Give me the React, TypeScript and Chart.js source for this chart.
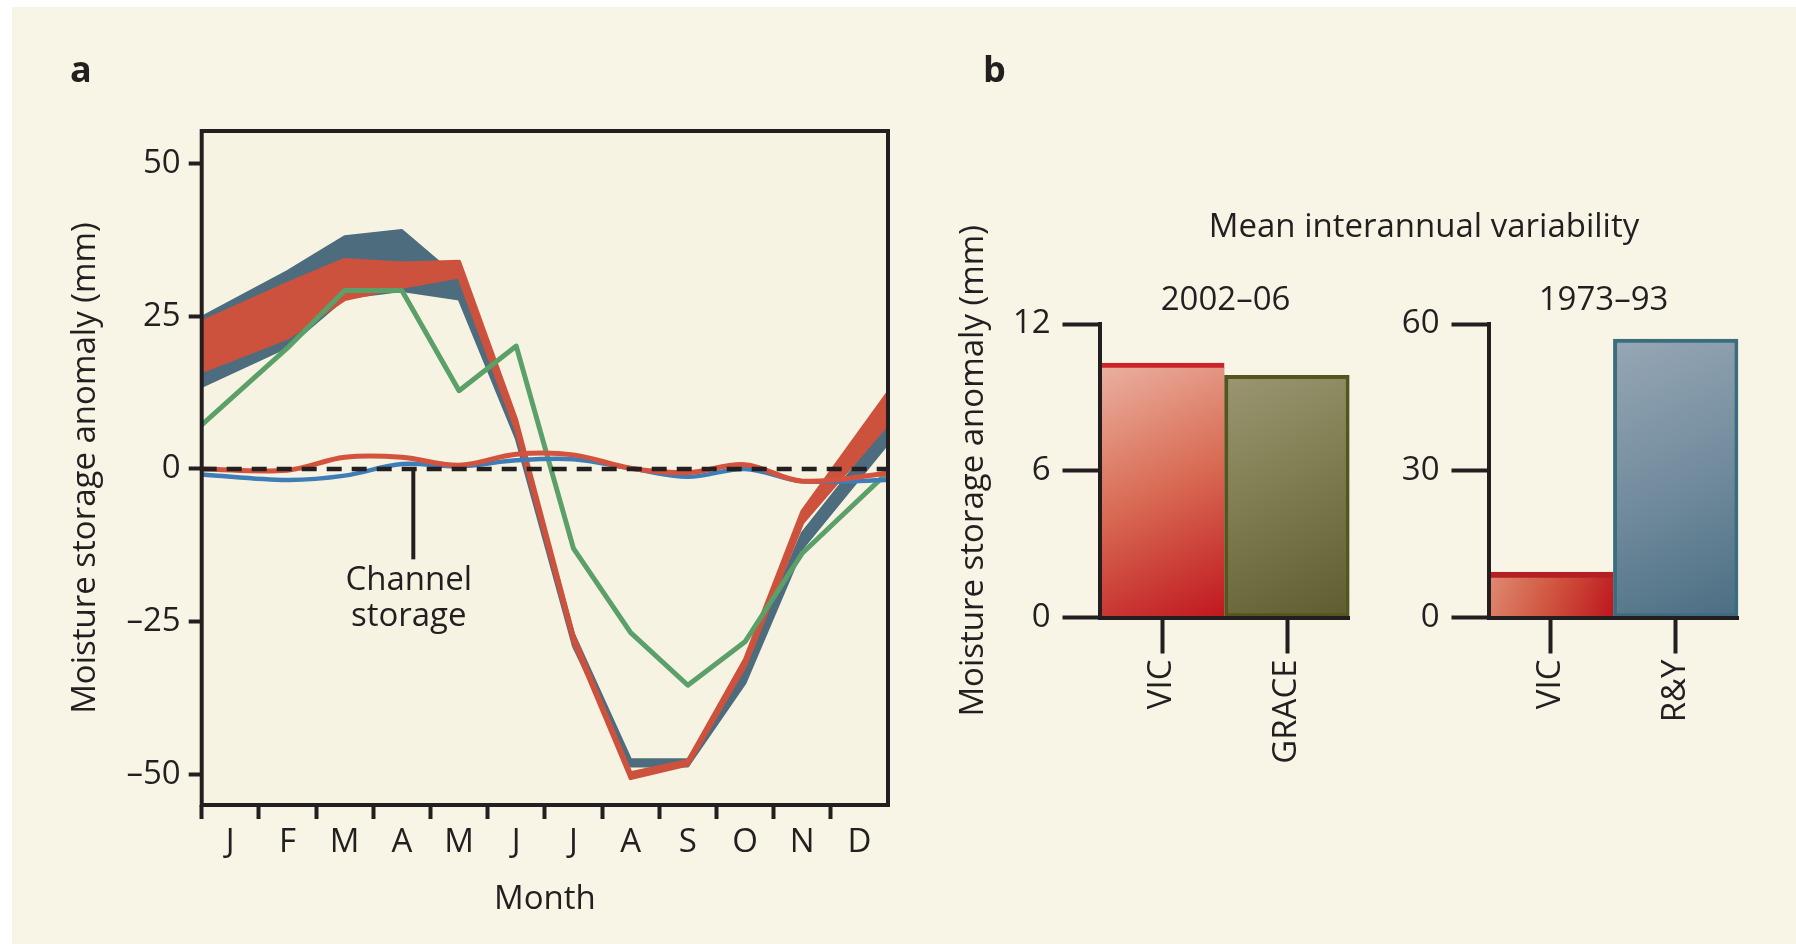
import React, { useEffect, useRef } from 'react';
import { Chart, registerables } from 'chart.js';

Chart.register(...registerables);

// ---------- data: panel a ----------
const monthLabels = ['J', 'F', 'M', 'A', 'M', 'J', 'J', 'A', 'S', 'O', 'N', 'D'];
const monthTicks = [0, 1, 2, 3, 4, 5, 6, 7, 8, 9, 10, 11];
const monthPos = [-0.5, 1, 2, 3, 4, 5, 6, 7, 8, 9, 10, 11.5];

const blueUpper = [24.8, 32.3, 38.0, 39.0, 31.0, 7.0, -27.0, -47.6, -47.6, -32.6, -10.5, 7.2];
const blueLower = [13.5, 20.0, 28.0, 29.2, 27.8, 5.0, -29.0, -48.6, -48.6, -35.0, -13.0, 4.2];
const redUpper = [24.0, 30.3, 34.2, 33.6, 33.9, 8.0, -27.3, -49.8, -47.8, -31.2, -7.0, 12.4];
const redLower = [16.0, 21.5, 27.8, 29.8, 31.5, 6.5, -28.3, -50.6, -48.4, -32.2, -8.8, 7.5];
const greenLine = [7.2, 19.8, 29.2, 29.2, 12.8, 20.1, -13.0, -26.8, -35.4, -28.3, -13.8, -0.5];
const channelBlue = [-0.9, -1.8, -1.1, 0.8, 0.4, 1.4, 1.6, 0.1, -1.3, 0.0, -2.0, -1.8];
const channelRed = [0.0, -0.2, 1.9, 1.9, 0.6, 2.4, 2.3, 0.1, -0.6, 0.7, -2.0, -0.7];

const yTicksA = [-50, -25, 0, 25, 50];
const yTickLabelsA = ['\u201350', '\u201325', '0', '25', '50'];

// annotation "Channel storage"
const annotText = ['Channel', 'storage'];
const annotLineX = 3.2;
const annotLineEnd = -14.8;
const annotTextX = 3.12;
const annotTextY = [-18.3, -24.2];

// ---------- data: panel b ----------
const catsB1 = ['VIC', 'GRACE'];
const valsB1 = [10.4, 9.9];
const yTicksB1 = [0, 6, 12];
const catsB2 = ['VIC', 'R&Y'];
const valsB2 = [9.3, 56.9];
const yTicksB2 = [0, 30, 60];

// ---------- styles ----------
const INK = '#231f20';
const FONT = "'Open Sans', 'Noto Sans', sans-serif";
const BG = '#f8f5e7';
const C_BLUE_BAND = '#4d6d7f';
const C_RED_BAND = '#cc523d';
const C_GREEN = '#5b9f69';
const C_CH_BLUE = '#3f7db7';
const C_CH_RED = '#d4533e';

const gradsB1 = [
  ['#ebb2a1', '#d86a53', '#c0171f'],
  ['#9b9672', '#7d7b4e', '#5f5d2f'],
];
const gradsB2 = [
  ['#e08c74', '#d0553f', '#bd161e'],
  ['#97a7b5', '#738d9e', '#4b6e83'],
];
const borderColB1 = ['#cc2229', '#55551f'];
const borderColB2 = ['#b32024', '#3c6d7f'];
const borderWB1: any[] = [{ top: 5, left: 0, right: 0, bottom: 0 }, 4];
const borderWB2: any[] = [{ top: 6, left: 0, right: 0, bottom: 0 }, 4];

Chart.defaults.font.family = FONT;
Chart.defaults.color = INK;

const tickFont = { size: 33, family: FONT };
const titleFont = { size: 33, family: FONT };

function barGradient(stops: string[][]) {
  return (c: any) => {
    const chart = c.chart;
    const area = chart.chartArea;
    if (c.type !== 'data' || !area || !chart.scales.x) return stops[0][0];
    const xs = chart.scales.x;
    const ys = chart.scales.y;
    const n = chart.data.labels.length;
    const w = (area.right - area.left) / n;
    const cx = xs.getPixelForValue(c.dataIndex);
    const x0 = cx - w / 2;
    const x1 = cx + w / 2;
    const y0 = ys.getPixelForValue(c.raw);
    const y1 = ys.getPixelForValue(0);
    const g = chart.ctx.createLinearGradient(x0, y0, x1, y1);
    const s = stops[c.dataIndex];
    s.forEach((col, k) => g.addColorStop(k / (s.length - 1), col));
    return g;
  };
}

const toXY = (vals: number[]) => vals.map((v, i) => ({ x: monthPos[i], y: v }));

const panelAPlugin = {
  id: 'panelAExtras',
  beforeDraw(chart: any) {
    const { ctx, chartArea: a } = chart;
    ctx.save();
    ctx.fillStyle = '#f6f3e2';
    ctx.fillRect(a.left, a.top, a.right - a.left, a.bottom - a.top);
    ctx.restore();
  },
  afterDatasetsDraw(chart: any) {
    const { ctx, chartArea: a, scales } = chart;
    const x = scales.x;
    const y = scales.y;
    const y0 = y.getPixelForValue(0);
    ctx.save();
    ctx.strokeStyle = INK;
    ctx.lineWidth = 4.5;
    ctx.setLineDash([15, 10]);
    ctx.beginPath();
    ctx.moveTo(a.left, y0);
    ctx.lineTo(a.right, y0);
    ctx.stroke();
    ctx.setLineDash([]);
    const ax = x.getPixelForValue(annotLineX);
    ctx.lineWidth = 4;
    ctx.beginPath();
    ctx.moveTo(ax, y0);
    ctx.lineTo(ax, y.getPixelForValue(annotLineEnd));
    ctx.stroke();
    ctx.fillStyle = INK;
    ctx.font = `33px ${FONT}`;
    ctx.textAlign = 'center';
    ctx.textBaseline = 'middle';
    annotText.forEach((t, i) => {
      ctx.fillText(t, x.getPixelForValue(annotTextX), y.getPixelForValue(annotTextY[i]));
    });
    ctx.restore();
  },
  afterDraw(chart: any) {
    const { ctx, chartArea: a } = chart;
    ctx.save();
    ctx.strokeStyle = INK;
    ctx.lineWidth = 4;
    ctx.strokeRect(a.left, a.top, a.right - a.left, a.bottom - a.top);
    ctx.restore();
  },
};

function makeBarConfig(
  labels: string[],
  values: number[],
  ticks: number[],
  grads: string[][],
  borderCols: string[],
  borderWs: any[],
  padLeft: number,
  yWidth: number,
  padRight: number,
  yTitle: string | null
): any {
  return {
    type: 'bar',
    data: {
      labels,
      datasets: [
        {
          data: values,
          backgroundColor: barGradient(grads),
          borderColor: borderCols,
          borderWidth: (c: any) => (c.type === 'data' ? borderWs[c.dataIndex] : 0),
          borderSkipped: false,
          barPercentage: 1,
          categoryPercentage: 1,
        },
      ],
    },
    options: {
      responsive: false,
      animation: false,
      devicePixelRatio: 1,
      layout: { padding: { left: padLeft, top: 324, right: padRight, bottom: 0 } },
      plugins: { legend: { display: false }, tooltip: { enabled: false } },
      scales: {
        x: {
          afterFit: (s: any) => {
            s.height = 944 - 617.5;
          },
          grid: { offset: false, drawOnChartArea: false, tickLength: 36, tickWidth: 4, color: INK },
          border: { display: true, width: 4, color: INK, z: 1 },
          ticks: { minRotation: 90, maxRotation: 90, padding: 6, font: tickFont, color: INK, autoSkip: false },
        },
        y: {
          min: ticks[0],
          max: ticks[ticks.length - 1],
          afterBuildTicks: (s: any) => {
            s.ticks = ticks.map((v) => ({ value: v }));
          },
          afterFit: (s: any) => {
            s.width = yWidth;
          },
          grid: { drawOnChartArea: false, tickLength: 37, tickWidth: 4, color: INK },
          border: { display: true, width: 4, color: INK, z: 1 },
          ticks: { padding: 12, font: tickFont, color: INK },
          title: yTitle
            ? { display: true, text: yTitle, font: titleFont, color: INK, padding: { top: 4, bottom: 0 } }
            : { display: false },
        },
      },
    },
  };
}

export default function App() {
  const refA = useRef<HTMLCanvasElement>(null);
  const refB1 = useRef<HTMLCanvasElement>(null);
  const refB2 = useRef<HTMLCanvasElement>(null);

  useEffect(() => {
    const lineBase = { pointRadius: 0, pointHoverRadius: 0, borderJoinStyle: 'round', borderCapStyle: 'round' };
    const chartA = new Chart(refA.current as HTMLCanvasElement, {
      type: 'line',
      data: {
        datasets: [
          { ...lineBase, label: 'blueLower', data: toXY(blueLower), borderColor: C_BLUE_BAND, borderWidth: 3, fill: false, order: 6 },
          { ...lineBase, label: 'blueUpper', data: toXY(blueUpper), borderColor: C_BLUE_BAND, borderWidth: 3, fill: '-1', backgroundColor: C_BLUE_BAND, order: 5 },
          { ...lineBase, label: 'redLower', data: toXY(redLower), borderColor: C_RED_BAND, borderWidth: 4, fill: false, order: 4 },
          { ...lineBase, label: 'redUpper', data: toXY(redUpper), borderColor: C_RED_BAND, borderWidth: 4, fill: '-1', backgroundColor: C_RED_BAND, order: 3 },
          { ...lineBase, label: 'green', data: toXY(greenLine), borderColor: C_GREEN, borderWidth: 5, fill: false, order: 2 },
          { ...lineBase, label: 'chBlue', data: toXY(channelBlue), borderColor: C_CH_BLUE, borderWidth: 4.5, fill: false, tension: 0.35, order: 1 },
          { ...lineBase, label: 'chRed', data: toXY(channelRed), borderColor: C_CH_RED, borderWidth: 5, fill: false, tension: 0.35, order: 0 },
        ] as any,
      },
      options: {
        responsive: false,
        animation: false,
        devicePixelRatio: 1,
        layout: { padding: { left: 62, top: 131, right: 52, bottom: 0 } },
        plugins: { legend: { display: false }, tooltip: { enabled: false } },
        scales: {
          x: {
            type: 'linear',
            min: -0.5,
            max: 11.5,
            afterBuildTicks: (s: any) => {
              s.ticks = monthTicks.map((v) => ({ value: v }));
            },
            afterFit: (s: any) => {
              s.height = 944 - 805;
            },
            ticks: {
              callback: (_v: any, i: number) => monthLabels[i],
              autoSkip: false,
              maxRotation: 0,
              padding: 4,
              font: tickFont,
              color: INK,
            },
            grid: {
              offset: true,
              drawOnChartArea: false,
              tickLength: 14,
              tickWidth: 4,
              color: (c: any) => (c.index === undefined ? 'rgba(0,0,0,0)' : INK),
            },
            border: { display: false },
            title: { display: true, text: 'Month', font: titleFont, color: INK, padding: { top: 0, bottom: 25 } },
          },
          y: {
            min: -55,
            max: 55.3,
            afterBuildTicks: (s: any) => {
              s.ticks = yTicksA.map((v) => ({ value: v }));
            },
            afterFit: (s: any) => {
              s.width = 201.7 - 62;
            },
            ticks: {
              callback: (_v: any, i: number) => yTickLabelsA[i],
              padding: 8,
              font: tickFont,
              color: INK,
            },
            grid: { drawOnChartArea: false, tickLength: 13, tickWidth: 4, color: INK },
            border: { display: false },
            title: {
              display: true,
              text: 'Moisture storage anomaly (mm)',
              font: titleFont,
              color: INK,
              padding: { top: 4, bottom: 0 },
            },
          },
        },
      } as any,
      plugins: [panelAPlugin],
    });

    const chartB1 = new Chart(
      refB1.current as HTMLCanvasElement,
      makeBarConfig(catsB1, valsB1, yTicksB1, gradsB1, borderColB1, borderWB1, 20, 149.5, 30.5, 'Moisture storage anomaly (mm)')
    );
    const chartB2 = new Chart(
      refB2.current as HTMLCanvasElement,
      makeBarConfig(catsB2, valsB2, yTicksB2, gradsB2, borderColB2, borderWB2, 0, 108.5, 57.7, null)
    );

    return () => {
      chartA.destroy();
      chartB1.destroy();
      chartB2.destroy();
    };
  }, []);

  const txt = (extra: React.CSSProperties): React.CSSProperties => ({
    position: 'absolute',
    fontFamily: FONT,
    color: INK,
    lineHeight: 1,
    whiteSpace: 'nowrap',
    ...extra,
  });

  return (
    <div style={{ position: 'absolute', left: 0, top: 0, width: 1796, height: 944, background: '#ffffff', overflow: 'hidden' }}>
      <div style={{ position: 'absolute', left: 12, top: 7, width: 1784, height: 937, background: BG }} />
      <canvas ref={refA} width={940} height={944} style={{ position: 'absolute', left: 0, top: 0 }} />
      <canvas ref={refB1} width={450} height={944} style={{ position: 'absolute', left: 930, top: 0 }} />
      <canvas ref={refB2} width={416} height={944} style={{ position: 'absolute', left: 1380, top: 0 }} />
      <div style={txt({ left: 70, top: 51, fontSize: 36, fontWeight: 700 })}>a</div>
      <div style={txt({ left: 983, top: 51, fontSize: 36, fontWeight: 700 })}>b</div>
      <div style={txt({ left: 1424, top: 208, fontSize: 33, transform: 'translateX(-50%)' })}>Mean interannual variability</div>
      <div style={txt({ left: 1225.6, top: 281, fontSize: 33, transform: 'translateX(-50%)' })}>2002–06</div>
      <div style={txt({ left: 1603.6, top: 281, fontSize: 33, transform: 'translateX(-50%)' })}>1973–93</div>
    </div>
  );
}
